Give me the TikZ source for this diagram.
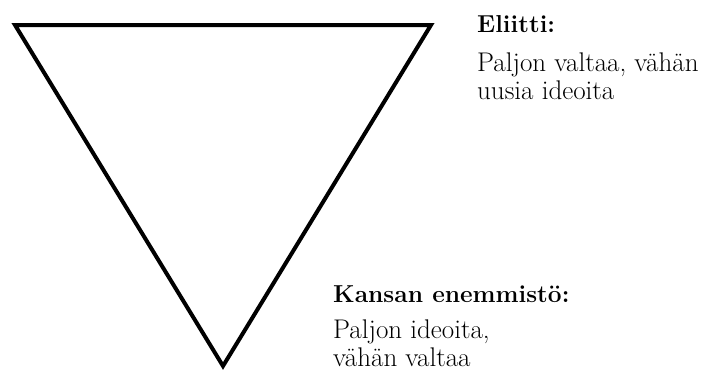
\documentclass[tikz,border=0pt]{standalone}
\usepackage{fontspec}
\usetikzlibrary{positioning}
\begin{document}
\begin{tikzpicture}[
    x=1pt, y=-1pt,
    edge/.style={line width=4pt, line join=miter},
    label/.style={inner sep=0pt, align=left, anchor=base west,
        font=\fontsize{27}{28}\selectfont},
    title/.style={label, font=\fontsize{24.5}{28}\selectfont\bfseries}
]
    \useasboundingbox (0,0) rectangle (716,372);
    \coordinate (tl) at (15,25);
    \coordinate (tr) at (431,25);
    \coordinate (bt) at (223,366);
    \draw[edge] (tl) -- (tr) -- (bt) -- cycle;

    \node[title] (elite) at (477,32) {Eliitti:};
    \node[label] (elitetxt) at (477,99) {Paljon valtaa, vähän\\uusia ideoita};
    \node[title] (mass) at (333,302) {Kansan enemmistö:};
    \node[label] (masstxt) at (333,366) {Paljon ideoita,\\vähän valtaa};
\end{tikzpicture}
\end{document}
